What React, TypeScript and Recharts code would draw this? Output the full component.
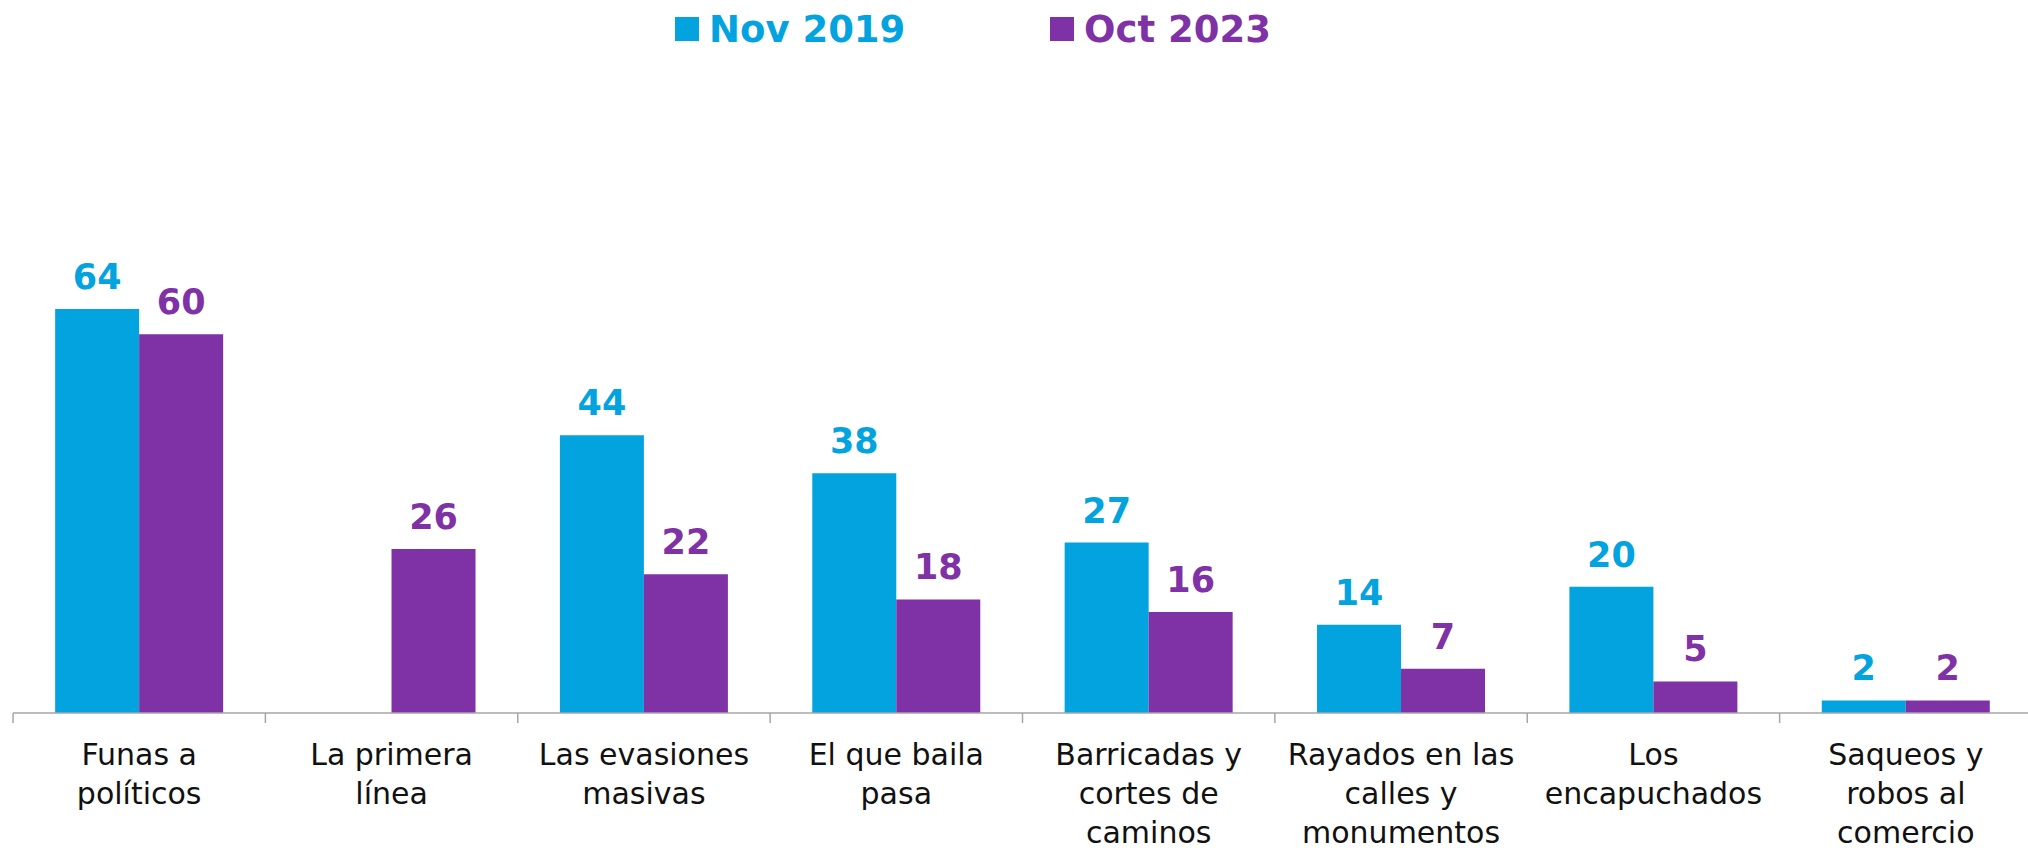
import { BarChart, Bar, XAxis, YAxis, LabelList } from 'recharts';

// Categories (line breaks as printed under the axis)
const categories = [
  'Funas a\npolíticos',
  'La primera\nlínea',
  'Las evasiones\nmasivas',
  'El que baila\npasa',
  'Barricadas y\ncortes de\ncaminos',
  'Rayados en las\ncalles y\nmonumentos',
  'Los\nencapuchados',
  'Saqueos y\nrobos al\ncomercio',
];

const nov2019: (number | null)[] = [64, null, 44, 38, 27, 14, 20, 2];
const oct2023: (number | null)[] = [60, 26, 22, 18, 16, 7, 5, 2];

const seriesNames = ['Nov 2019', 'Oct 2023'];

const BLUE = '#03a3e0';
const PURPLE = '#7f31a6';
const AXIS = '#a6a6a6';

const WIDTH = 2028;
const HEIGHT = 848;
const MARGIN = { top: 208, right: -4, left: 13, bottom: 0 };
const BAND = (WIDTH - MARGIN.left - MARGIN.right) / categories.length;

const data = categories.map((name, i) => ({
  name,
  nov: nov2019[i],
  oct: oct2023[i],
}));

const CategoryTick = ({ x, y, payload, index }: any) => {
  const lines: string[] = String(payload.value).split('\n');
  const left = x - BAND / 2;
  const right = x + BAND / 2;
  return (
    <g>
      <line x1={left} x2={left} y1={y} y2={y + 10} stroke={AXIS} strokeWidth={1.5} />
      {index === categories.length - 1 && (
        <line x1={right} x2={right} y1={y} y2={y + 10} stroke={AXIS} strokeWidth={1.5} />
      )}
      <text textAnchor="middle" fill="#111" fontSize={30} fontFamily="DejaVu Sans">
        {lines.map((l, i) => (
          <tspan key={i} x={x} y={y + 52 + i * 39}>
            {l}
          </tspan>
        ))}
      </text>
    </g>
  );
};

const valueLabel = (color: string) => (props: any) => {
  const { x, y, width, value } = props;
  if (value === null || value === undefined) return null;
  return (
    <text
      x={x + width / 2}
      y={y - 20}
      textAnchor="middle"
      fill={color}
      fontSize={35}
      fontWeight="bold"
      fontFamily="DejaVu Sans"
    >
      {value}
    </text>
  );
};

const legendItem = (label: string, color: string, left: number) => (
  <div
    style={{
      position: 'absolute',
      left,
      top: 7,
      height: 44,
      display: 'flex',
      alignItems: 'center',
      fontFamily: 'DejaVu Sans',
      fontWeight: 'bold',
      fontSize: 37,
      color,
      whiteSpace: 'nowrap',
    }}
  >
    <span style={{ width: 24, height: 24, background: color, display: 'inline-block', marginRight: 10 }} />
    {label}
  </div>
);

export default function App() {
  return (
    <div style={{ position: 'absolute', left: 0, top: 0, width: WIDTH, height: HEIGHT, background: '#fff', overflow: 'hidden' }}>
      {legendItem(seriesNames[0], BLUE, 675)}
      {legendItem(seriesNames[1], PURPLE, 1050)}
      <BarChart
        width={WIDTH}
        height={HEIGHT}
        data={data}
        margin={MARGIN}
        barCategoryGap="16.7%"
        barGap={0}
      >
        <XAxis
          dataKey="name"
          interval={0}
          height={HEIGHT - 713}
          axisLine={{ stroke: AXIS, strokeWidth: 1.5 }}
          tickLine={false}
          tickSize={0}
          tickMargin={0}
          tick={<CategoryTick />}
        />
        <YAxis hide domain={[0, 80]} />
        <Bar dataKey="nov" name={seriesNames[0]} fill={BLUE} isAnimationActive={false}>
          <LabelList dataKey="nov" content={valueLabel(BLUE)} />
        </Bar>
        <Bar dataKey="oct" name={seriesNames[1]} fill={PURPLE} isAnimationActive={false}>
          <LabelList dataKey="oct" content={valueLabel(PURPLE)} />
        </Bar>
      </BarChart>
    </div>
  );
}
